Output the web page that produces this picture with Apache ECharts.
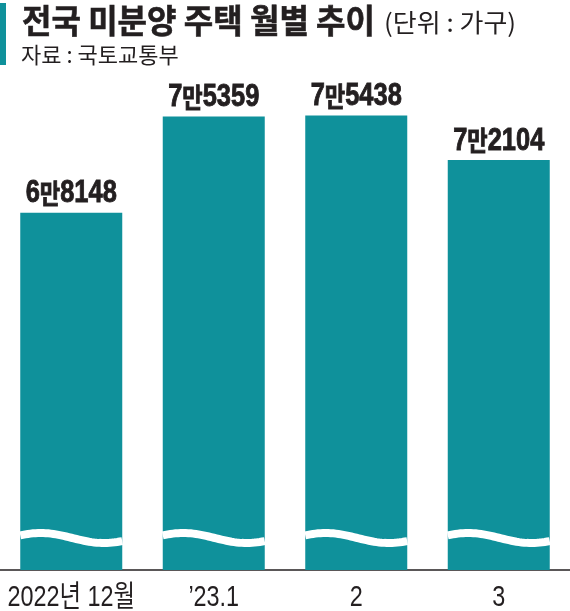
<!DOCTYPE html>
<html>
<head>
<meta charset="utf-8">
<script src="https://cdn.jsdelivr.net/npm/echarts@6/dist/echarts.min.js"></script>
<style>
html,body{margin:0;padding:0;background:#fff;}
#c{width:570px;height:611px;}
</style>
</head>
<body>
<div id="c"></div>
<script>
var categories = ['2022년 12월', '\u201923.1', '2', '3'];
var values = [68148, 75359, 75438, 72104];
var titleText = '전국 미분양 주택 월별 추이';
var unitText = '(단위 : 가구)';
var sourceText = '자료 : 국토교통부';

var TEAL = '#0f919b';
var INK = '#231f20';
var LAT = "'Liberation Sans', 'Noto Sans CJK KR', sans-serif";
var CJK = "'Noto Sans CJK KR', sans-serif";
var Y_MIN = 41400, Y_MAX = 76600;

function fmt(v) {
  var man = Math.floor(v / 10000);
  var rest = String(v % 10000);
  while (rest.length < 4) rest = '0' + rest;
  return '{d|' + man + '}{m|만}{d|' + rest + '}';
}

var chart = echarts.init(document.getElementById('c'), null, {renderer: 'canvas'});
chart.setOption({
  animation: false,
  backgroundColor: '#fff',
  grid: {left: 0, right: 0, top: 100, bottom: 41, containLabel: false, outerBoundsMode: 'none'},
  xAxis: {
    type: 'category',
    data: categories,
    axisLine: {show: true, lineStyle: {color: INK, width: 1.5}},
    axisTick: {show: false},
    axisLabel: {show: false}
  },
  yAxis: {
    type: 'value', min: Y_MIN, max: Y_MAX,
    show: false, splitLine: {show: false}
  },
  series: [
    {
      type: 'bar',
      data: values,
      barWidth: 102,
      clip: true,
      itemStyle: {color: TEAL}
    },
    {
      type: 'custom',
      data: values.map(function (v, i) { return [i, v]; }),
      clip: false,
      z: 5,
      renderItem: function (params, api) {
        var i = api.value(0);
        var base = api.coord([i, Y_MIN]);
        var top = api.coord([i, api.value(1)]);
        var w = 102;
        var x0 = base[0] - w / 2;
        var yc = base[1] - 32;
        var pts = [];
        for (var k = 0; k <= 40; k++) {
          var t = k / 40;
          var y = yc - 5 * Math.sin(Math.PI / 2 + 2 * Math.PI * (t - 0.2) / 1.24);
          pts.push([x0 + t * w, y]);
        }
        return {
          type: 'group',
          children: [
            {
              type: 'polyline',
              shape: {points: pts},
              style: {stroke: '#fff', lineWidth: 8, fill: null, lineCap: 'butt'}
            },
            {
              type: 'text',
              x: top[0], y: top[1] - 3, scaleX: 0.82,
              style: {
                text: fmt(api.value(1)),
                align: 'center', verticalAlign: 'bottom',
                rich: {
                  d: {fontFamily: LAT, fontWeight: 'bold', fontSize: 31, fill: INK, lineHeight: 32, stroke: INK, lineWidth: 0.9},
                  m: {fontFamily: CJK, fontWeight: 'bold', fontSize: 27, fill: INK, lineHeight: 32, stroke: INK, lineWidth: 0.9}
                }
              }
            },
            {
              type: 'text',
              x: base[0], y: base[1] + 28, scaleX: 0.78,
              style: {
                text: categories[i],
                align: 'center', verticalAlign: 'middle',
                fontFamily: LAT, fontSize: 30, fill: INK
              }
            }
          ]
        };
      }
    }
  ],
  graphic: [
    {type: 'rect', shape: {x: 0, y: 3, width: 6, height: 62}, style: {fill: TEAL}},
    {type: 'text', x: 22, y: 20, scaleX: 0.97,
      style: {text: titleText, font: 'bold 33px ' + CJK, fill: INK, stroke: INK, lineWidth: 0.6, verticalAlign: 'middle'}},
    {type: 'text', x: 384, y: 22, scaleX: 1.04,
      style: {text: unitText, font: '25px ' + CJK, fill: INK, verticalAlign: 'middle'}},
    {type: 'text', x: 21, y: 55, scaleX: 1.0,
      style: {text: sourceText, font: '22px ' + CJK, fill: INK, verticalAlign: 'middle'}}
  ]
});
</script>
</body>
</html>
